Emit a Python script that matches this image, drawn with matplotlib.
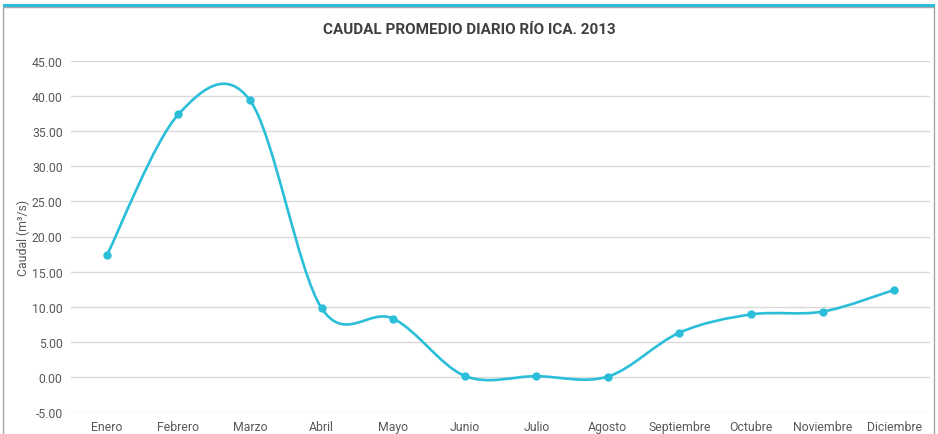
import matplotlib.pyplot as plt
from matplotlib.path import Path
from matplotlib.patches import PathPatch, Rectangle

# Monthly mean flow, Rio Ica 2013
meses = ["Enero", "Febrero", "Marzo", "Abril", "Mayo", "Junio", "Julio",
         "Agosto", "Septiembre", "Octubre", "Noviembre", "Diciembre"]
caudal = [17.3, 37.4, 39.4, 9.8, 8.3, 0.15, 0.1, 0.05, 6.3, 8.9, 9.3, 12.4]
yticks = [-5, 0, 5, 10, 15, 20, 25, 30, 35, 40, 45]

line_color = "#2BBED9"
text_color = "#595959"

plt.rcParams['font.family'] = ['Roboto', 'DejaVu Sans']

fig = plt.figure(figsize=(9.38, 4.35), dpi=100)

# frame and teal top bar
fig.patches.append(Rectangle((3 / 938, -0.05), 931 / 938, 1 - 8 / 435 + 0.05,
                             transform=fig.transFigure, fill=False,
                             edgecolor="#A6A6A6", linewidth=1.0))
fig.patches.append(Rectangle((3 / 938, 1 - 8 / 435), 932 / 938, 3 / 435,
                             transform=fig.transFigure, facecolor=line_color,
                             edgecolor="none"))

ax = fig.add_axes([71 / 938, 22 / 435, 859 / 938, 351 / 435])

x = list(range(len(caudal)))

# smoothed line (Catmull-Rom style bezier, like spreadsheet smoothing)
verts = [(x[0], caudal[0])]
codes = [Path.MOVETO]
n = len(caudal)
for i in range(n - 1):
    p0 = (x[max(i - 1, 0)], caudal[max(i - 1, 0)])
    p1 = (x[i], caudal[i])
    p2 = (x[i + 1], caudal[i + 1])
    p3 = (x[min(i + 2, n - 1)], caudal[min(i + 2, n - 1)])
    c1 = (p1[0] + (p2[0] - p0[0]) / 6, p1[1] + (p2[1] - p0[1]) / 6)
    c2 = (p2[0] - (p3[0] - p1[0]) / 6, p2[1] - (p3[1] - p1[1]) / 6)
    verts += [c1, c2, p2]
    codes += [Path.CURVE4] * 3
ax.add_patch(PathPatch(Path(verts, codes), fill=False, edgecolor=line_color,
                       linewidth=1.9, zorder=3, capstyle="round"))
ax.plot(x, caudal, "o", color=line_color, markersize=5, zorder=4)

ax.set_xlim(-0.5, 11.5)
ax.set_ylim(-5, 45)
ax.set_xticks(x)
ax.set_xticklabels(meses)
ax.set_yticks(yticks)
ax.set_yticklabels([f"{v:.2f}" for v in yticks])
ax.tick_params(axis="both", length=0, labelsize=8.8, colors=text_color)
ax.tick_params(axis="y", pad=6)
ax.tick_params(axis="x", pad=13)
for lbl in ax.get_xticklabels():
    lbl.set_verticalalignment("baseline")
ax.grid(axis="y", color="#D9D9D9", linewidth=1)
ax.set_axisbelow(True)
for s in ax.spines.values():
    s.set_visible(False)

ax.set_ylabel("Caudal (m³/s)", fontsize=8.8, color=text_color, labelpad=1)
fig.text(0.5, 1 - 30 / 435, "CAUDAL PROMEDIO DIARIO RÍO ICA. 2013",
         ha="center", va="center", fontsize=11, fontweight="bold",
         color="#404040")

fig.savefig("out.png", dpi=100)
